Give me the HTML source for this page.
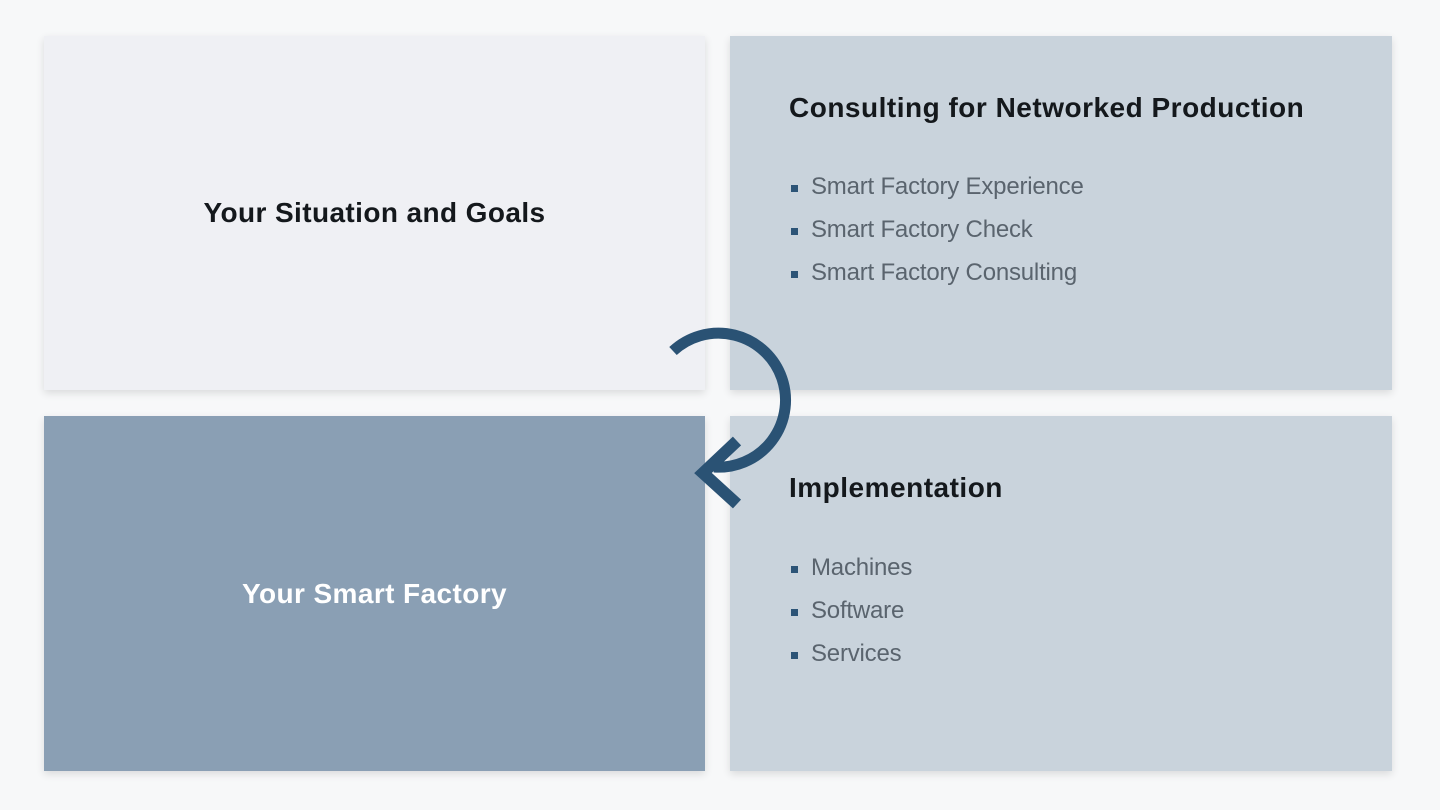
<!DOCTYPE html>
<html><head><meta charset="utf-8"><style>
body{margin:0;width:1440px;height:810px;background:#f7f8f9;position:relative;overflow:hidden;font-family:"Liberation Sans",sans-serif}
.p{position:absolute;box-shadow:0 3px 8px rgba(0,0,0,0.12)}
.c{display:flex;align-items:center;justify-content:center;font-weight:bold;font-size:28px;letter-spacing:0.4px}
h2{position:absolute;left:59px;margin:0;font-size:28px;letter-spacing:0.5px;color:#14181c}
ul{position:absolute;left:59px;margin:0;padding:0;list-style:none}
li{font-size:24px;color:#5a646e;height:43px;line-height:30px;position:relative;padding-left:22px;letter-spacing:-0.2px}
li:before{content:"";position:absolute;left:2px;top:13px;width:7px;height:7px;background:#2c5477}
</style></head><body>
<div class="p c" style="left:44px;top:36px;width:661px;height:354px;background:#eff0f4;color:#14181c">Your Situation and Goals</div>
<div class="p" style="left:730px;top:36px;width:662px;height:354px;background:#c9d3dc">
<h2 style="top:56px">Consulting for Networked Production</h2>
<ul style="top:136px"><li>Smart Factory Experience</li><li>Smart Factory Check</li><li>Smart Factory Consulting</li></ul></div>
<div class="p c" style="left:44px;top:416px;width:661px;height:355px;background:#8a9fb4;color:#fff">Your Smart Factory</div>
<div class="p" style="left:730px;top:416px;width:662px;height:355px;background:#c9d3dc">
<h2 style="top:56px">Implementation</h2>
<ul style="top:137px"><li>Machines</li><li>Software</li><li>Services</li></ul></div>
<svg style="position:absolute;left:0;top:0" width="1440" height="810">
<path d="M673 351 A67 67 0 1 1 714 467" fill="none" stroke="#2a5274" stroke-width="11"/>
<polyline points="737,441 703,473 737,504" fill="none" stroke="#2a5274" stroke-width="12"/>
</svg>
</body></html>
